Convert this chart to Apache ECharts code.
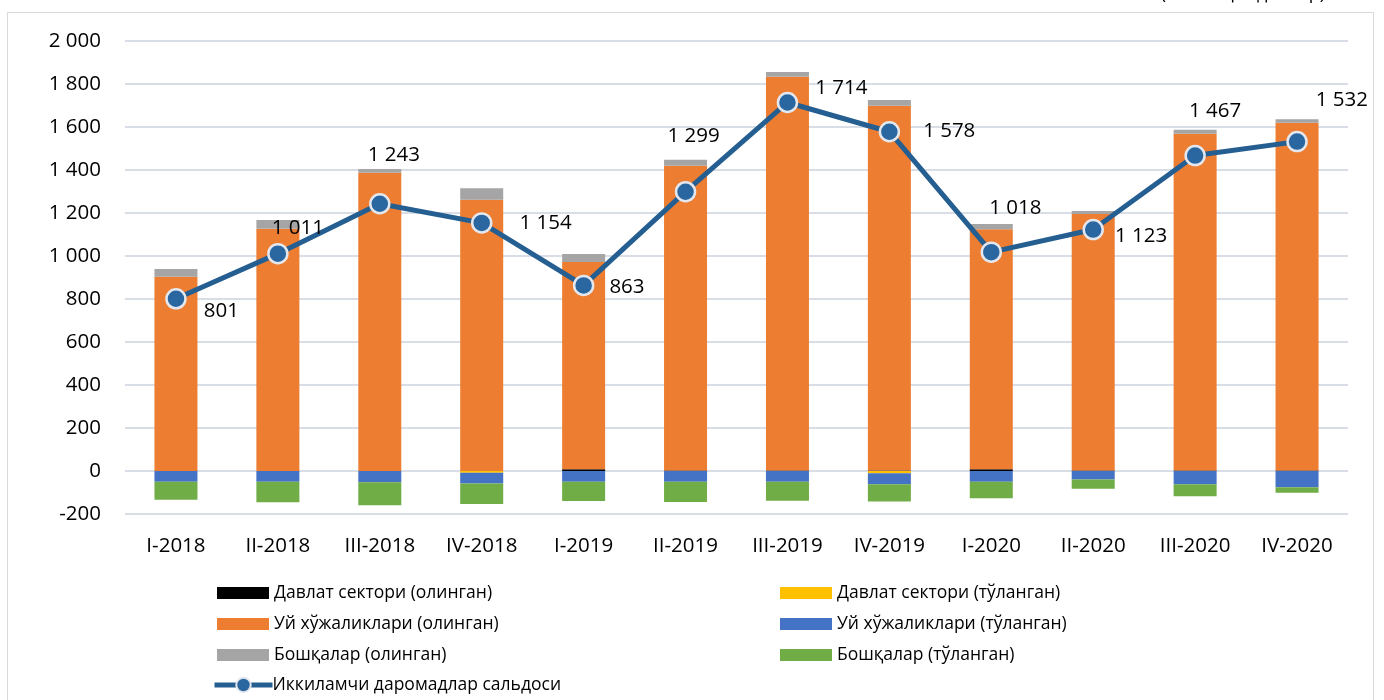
<!DOCTYPE html>
<html><head><meta charset="utf-8">
<script src="https://cdn.jsdelivr.net/npm/echarts@6/dist/echarts.min.js"></script>
<style>html,body{margin:0;padding:0;background:#fff}#c{width:1384px;height:700px}</style>
</head><body><div id="c"></div>
<script>
const categories = ['I-2018','II-2018','III-2018','IV-2018','I-2019','II-2019','III-2019','IV-2019','I-2020','II-2020','III-2020','IV-2020'];
const govReceived = [0, 0, 0, 0, 8, 2, 2, 2, 8, 2, 2, 2];
const govPaid = [0, 0, 0, -8, 0, 0, 0, -10, 0, 0, 0, 0];
const hhReceived = [904, 1127, 1387, 1262, 964, 1418, 1832, 1697, 1116, 1193, 1567, 1618];
const hhPaid = [-50, -50, -52, -50, -50, -50, -50, -52, -50, -40, -62, -76];
const otherReceived = [36, 40, 18, 53, 37, 28, 22, 27, 25, 14, 18, 16];
const otherPaid = [-84, -95, -107, -95, -90, -94, -88, -80, -77, -43, -55, -25];
const balance = [801, 1011, 1243, 1154, 863, 1299, 1714, 1578, 1018, 1123, 1467, 1532];
const yTicks = {min: -200, max: 2000, interval: 200};

const names = {
  gr: 'Давлат сектори (олинган)', gp: 'Давлат сектори (тўланган)',
  hr: 'Уй хўжаликлари (олинган)', hp: 'Уй хўжаликлари (тўланган)',
  or: 'Бошқалар (олинган)', op: 'Бошқалар (тўланган)',
  bal: 'Иккиламчи даромадлар сальдоси'
};
const FONT = 'Open Sans';
const fmt = v => String(v).replace(/\B(?=(\d{3})+(?!\d))/g, ' ');

// label placement per point (approximate Excel placement)
const labelPos = [
  {position:'right', offset:[12,12]}, {position:'top', offset:[20,1]}, {position:'top', offset:[14,-22]},
  {position:'right', offset:[22,0]}, {position:'right', offset:[10,2]}, {position:'top', offset:[8,-29]},
  {position:'right', offset:[12,-14]}, {position:'right', offset:[18,-1]}, {position:'top', offset:[24,-18]},
  {position:'right', offset:[6,7]}, {position:'top', offset:[20,-18]}, {position:'right', offset:[3,-41]}
];

const barBase = {type:'bar', stack:'s', barWidth:43, emphasis:{disabled:true}};
const legendRows = [592, 623, 654, 685];
const legendItem = (name, x, row, extra) => Object.assign({
  left:x, top:legendRows[row]-8, itemWidth:52, itemHeight:12, padding:0, icon:'rect',
  textStyle:{fontSize:17.5, color:'#000', fontFamily:FONT}, data:[name]
}, extra || {});
const chart = echarts.init(document.getElementById('c'));
chart.setOption({
  animation:false,
  textStyle:{fontFamily:FONT},
  graphic:[
    {type:'rect', shape:{x:7.5, y:12.5, width:1366, height:700}, style:{fill:'none', stroke:'#D9D9D9', lineWidth:1}},
    {type:'text', x:1325, y:-15, style:{text:'(млн. АҚШ доллар)', font:'18px "Open Sans"', fill:'#000', align:'right', verticalAlign:'top'}}
  ],
  grid:{left:125, right:36, top:41, bottom:186},
  xAxis:{type:'category', data:categories,
    axisLine:{show:false}, axisTick:{show:false},
    axisLabel:{fontSize:20.5, color:'#000', margin:22, fontFamily:FONT}},
  yAxis:{type:'value', min:yTicks.min, max:yTicks.max, interval:yTicks.interval,
    axisLabel:{fontSize:20.5, color:'#000', margin:24, formatter:fmt, fontFamily:FONT},
    splitLine:{lineStyle:{color:'#D9DEE6', width:2}}},
  legend:[
    legendItem(names.gr, 217, 0), legendItem(names.hr, 217, 1), legendItem(names.or, 217, 2),
    legendItem(names.bal, 212, 3, {icon:null, top:legendRows[3]-9, itemWidth:58, itemHeight:18,
      textStyle:{fontSize:17.5, color:'#000', fontFamily:FONT, padding:[0,0,0,-5]},
      lineStyle:{width:5, color:'#255E91'}, itemStyle:{color:'#2A66A0', borderColor:'#E4E8EE', borderWidth:2}}),
    legendItem(names.gp, 780, 0), legendItem(names.hp, 780, 1), legendItem(names.op, 780, 2)
  ],
  series:[
    Object.assign({}, barBase, {name:names.gr, data:govReceived, itemStyle:{color:'#000000'}}),
    Object.assign({}, barBase, {name:names.gp, data:govPaid, itemStyle:{color:'#FFC000'}}),
    Object.assign({}, barBase, {name:names.hr, data:hhReceived, itemStyle:{color:'#ED7D31'}}),
    Object.assign({}, barBase, {name:names.hp, data:hhPaid, itemStyle:{color:'#4472C4'}}),
    Object.assign({}, barBase, {name:names.or, data:otherReceived, itemStyle:{color:'#A5A5A5'}}),
    Object.assign({}, barBase, {name:names.op, data:otherPaid, itemStyle:{color:'#70AD47'}}),
    {type:'line', name:names.bal, z:10,
     data:balance.map((v,i)=>({value:v, label:Object.assign({show:true}, labelPos[i])})),
     symbol:'circle', symbolSize:19,
     lineStyle:{color:'#255E91', width:5},
     itemStyle:{color:'#2A66A0', borderColor:'#E4E8EE', borderWidth:2.5},
     label:{fontSize:20.5, color:'#000', formatter:p=>fmt(p.value), fontFamily:FONT},
     emphasis:{disabled:true}}
  ]
});
</script></body></html>
